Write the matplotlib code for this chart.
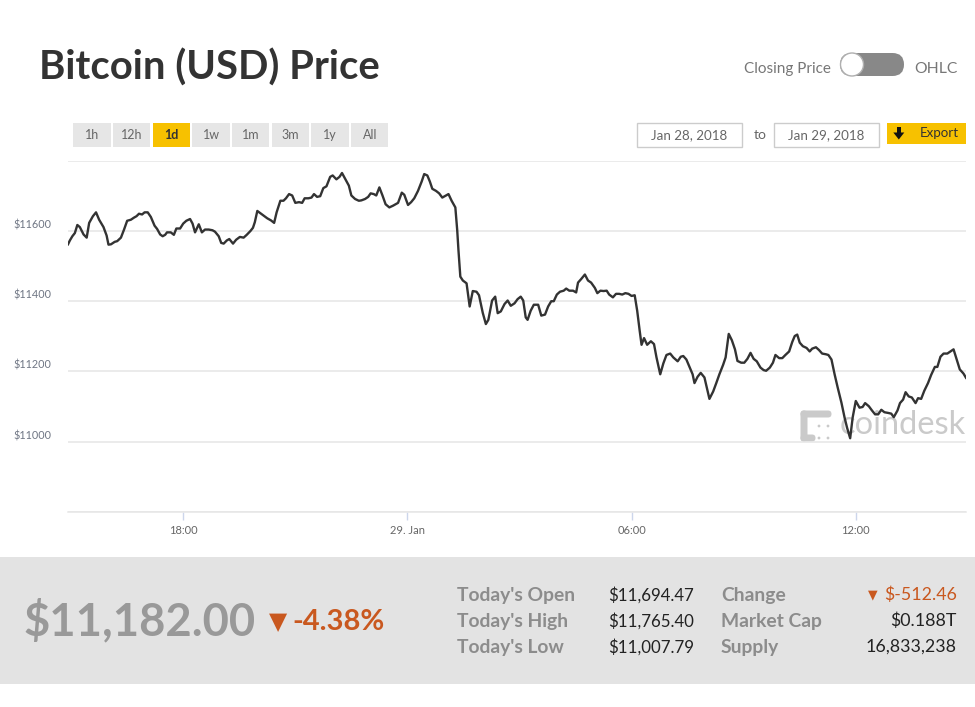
import matplotlib
matplotlib.use("Agg")
import matplotlib.pyplot as plt
from matplotlib.patches import FancyBboxPatch, Rectangle, Circle, Polygon

# ---------------- data ----------------
# minutes since 2018-01-28 00:00
minutes = [
    895, 898, 902, 906, 910, 914, 920, 925, 929, 935,
    940, 945, 952, 957, 960, 964, 970, 974, 980, 985,
    990, 996, 1001, 1005, 1009, 1014, 1018, 1023, 1028, 1034,
    1038, 1043, 1047, 1051, 1054, 1060, 1065, 1069, 1075, 1080,
    1085, 1091, 1095, 1099, 1105, 1110, 1115, 1121, 1127, 1131,
    1137, 1141, 1145, 1150, 1154, 1160, 1165, 1171, 1177, 1182,
    1188, 1192, 1195, 1199, 1205, 1210, 1215, 1221, 1226, 1230,
    1236, 1241, 1245, 1250, 1255, 1260, 1266, 1271, 1275, 1281,
    1286, 1290, 1295, 1300, 1305, 1310, 1316, 1320, 1326, 1331,
    1335, 1341, 1346, 1350, 1356, 1362, 1366, 1372, 1377, 1381,
    1386, 1390, 1395, 1400, 1405, 1411, 1417, 1425, 1431, 1435,
    1441, 1446, 1451, 1457, 1463, 1467, 1472, 1476, 1480, 1486,
    1491, 1496, 1502, 1506, 1511, 1517, 1520, 1522, 1525, 1529,
    1535, 1540, 1545, 1551, 1555, 1561, 1566, 1570, 1576, 1581,
    1585, 1590, 1596, 1601, 1606, 1612, 1617, 1622, 1626, 1630,
    1633, 1638, 1643, 1650, 1655, 1661, 1666, 1671, 1675, 1680,
    1685, 1691, 1695, 1700, 1706, 1711, 1714, 1719, 1725, 1730,
    1735, 1741, 1745, 1750, 1755, 1760, 1764, 1770, 1775, 1780,
    1785, 1790, 1795, 1800, 1805, 1809, 1813, 1816, 1820, 1825,
    1831, 1836, 1840, 1846, 1851, 1856, 1862, 1867, 1874, 1879,
    1883, 1888, 1893, 1898, 1901, 1906, 1911, 1917, 1921, 1925,
    1931, 1936, 1941, 1947, 1951, 1956, 1961, 1966, 1970, 1976,
    1981, 1986, 1991, 1996, 2001, 2007, 2012, 2016, 2022, 2027,
    2031, 2037, 2042, 2047, 2053, 2058, 2062, 2066, 2070, 2075,
    2081, 2086, 2090, 2096, 2101, 2106, 2112, 2116, 2121, 2126,
    2131, 2137, 2142, 2146, 2151, 2155, 2160, 2166, 2171, 2175,
    2181, 2186, 2191, 2196, 2201, 2206, 2212, 2217, 2221, 2227,
    2231, 2236, 2240, 2245, 2250, 2256, 2260, 2265, 2270, 2276,
    2281, 2287, 2291, 2296, 2301, 2307, 2312, 2317, 2322, 2327,
    2333, 2337,
]
prices = [
    11562, 11573, 11585, 11594, 11617, 11611, 11590, 11581, 11623, 11642,
    11653, 11632, 11611, 11587, 11561, 11562, 11569, 11571, 11581, 11604,
    11629, 11632, 11638, 11642, 11649, 11647, 11653, 11653, 11640, 11615,
    11606, 11590, 11585, 11589, 11596, 11596, 11589, 11607, 11607, 11621,
    11629, 11634, 11621, 11596, 11619, 11596, 11604, 11604, 11602, 11598,
    11585, 11566, 11564, 11573, 11577, 11564, 11575, 11583, 11581, 11589,
    11600, 11609, 11625, 11657, 11649, 11642, 11636, 11630, 11623, 11653,
    11686, 11686, 11693, 11705, 11701, 11680, 11682, 11680, 11693, 11693,
    11695, 11705, 11697, 11699, 11722, 11727, 11754, 11758, 11747, 11754,
    11765, 11745, 11729, 11701, 11691, 11686, 11687, 11691, 11697, 11707,
    11705, 11701, 11724, 11701, 11676, 11667, 11672, 11680, 11709, 11703,
    11674, 11682, 11693, 11714, 11741, 11762, 11758, 11741, 11720, 11714,
    11707, 11695, 11701, 11705, 11686, 11667, 11602, 11545, 11470, 11459,
    11451, 11385, 11429, 11427, 11417, 11367, 11335, 11347, 11402, 11413,
    11366, 11371, 11392, 11402, 11387, 11394, 11406, 11413, 11402, 11354,
    11347, 11373, 11390, 11390, 11359, 11362, 11385, 11400, 11400, 11419,
    11427, 11430, 11436, 11430, 11430, 11425, 11453, 11463, 11476, 11459,
    11453, 11438, 11423, 11430, 11429, 11430, 11419, 11411, 11421, 11421,
    11419, 11423, 11421, 11415, 11417, 11373, 11316, 11276, 11295, 11276,
    11286, 11278, 11240, 11192, 11223, 11247, 11251, 11240, 11229, 11242,
    11244, 11234, 11213, 11192, 11167, 11185, 11196, 11183, 11152, 11122,
    11143, 11167, 11192, 11219, 11240, 11307, 11289, 11263, 11230, 11225,
    11225, 11236, 11253, 11236, 11229, 11211, 11204, 11202, 11211, 11225,
    11247, 11238, 11238, 11247, 11257, 11284, 11301, 11305, 11282, 11272,
    11267, 11257, 11265, 11269, 11261, 11251, 11249, 11247, 11234, 11192,
    11154, 11111, 11069, 11040, 11010, 11069, 11116, 11097, 11099, 11110,
    11101, 11089, 11078, 11078, 11091, 11084, 11082, 11080, 11070, 11089,
    11110, 11120, 11141, 11129, 11126, 11110, 11124, 11122, 11145, 11167,
    11190, 11213, 11213, 11242, 11251, 11251, 11257, 11263, 11234, 11206,
    11194, 11182,
]

grid_values = [10800, 11000, 11200, 11400, 11600, 11800]
y_label_values = [11000, 11200, 11400, 11600]
y_labels = ["$11000", "$11200", "$11400", "$11600"]
x_ticks = [1080, 1440, 1800, 2160]
x_labels = ["18:00", "29. Jan", "06:00", "12:00"]
range_buttons = ["1h", "12h", "1d", "1w", "1m", "3m", "1y", "All"]
selected_range = "1d"
date_from = "Jan 28, 2018"
date_to = "Jan 29, 2018"
title = "Bitcoin (USD) Price"
last_price = "$11,182.00"
pct_change = "-4.38%"
stat_labels_left = ["Today's Open", "Today's High", "Today's Low"]
stat_values_left = ["$11,694.47", "$11,765.40", "$11,007.79"]
stat_labels_right = ["Change", "Market Cap", "Supply"]
stat_values_right = ["$-512.46", "$0.188T", "16,833,238"]

# ---------------- styling ----------------
plt.rcParams["font.family"] = ["Lato", "DejaVu Sans"]
YELLOW = "#f7c100"
ORANGE = "#c9581f"

fig = plt.figure(figsize=(9.75, 7.07), dpi=100)
fig.patch.set_facecolor("white")

# page overlay in pixel coordinates
bg = fig.add_axes([0, 0, 1, 1])
bg.set_xlim(0, 975)
bg.set_ylim(707, 0)
bg.axis("off")
bg.set_zorder(0)

# main chart axes
L, R, T, B = 68, 966, 160.7, 512
ax = fig.add_axes([L / 975, 1 - B / 707, (R - L) / 975, (B - T) / 707])
ax.set_zorder(1)
ax.patch.set_alpha(0)

ax.plot(minutes, prices, color="#333333", lw=1.7, solid_joinstyle="round", zorder=3)
ax.set_xlim(minutes[0], minutes[-1])
ax.set_ylim(grid_values[0], grid_values[-1])

ax.set_yticks(grid_values, labels=[""] * len(grid_values))
ax.yaxis.grid(True, color="#e6e6e6", lw=1.1)
ax.tick_params(axis="y", length=0)
for v, lab in zip(y_label_values, y_labels):
    ax.annotate(lab, xy=(0, v), xycoords=("axes fraction", "data"),
                xytext=(-17, 6), textcoords="offset pixels",
                ha="right", va="center", fontsize=7.8, color="#6f7684")

ax.set_xticks(x_ticks, labels=x_labels)
ax.tick_params(axis="x", length=6, width=1, color="#ccd6eb",
               labelcolor="#666666", labelsize=8, pad=3)
for s in ["left", "right", "top"]:
    ax.spines[s].set_visible(False)
ax.spines["bottom"].set_color("#e6e6e6")
ax.spines["bottom"].set_linewidth(1.1)

# ---------------- header ----------------
bg.text(39, 68, title, fontsize=28.8, fontweight="bold", color="#333333", va="center")
bg.text(831, 69, "Closing Price", fontsize=11, color="#777777", ha="right", va="center")
bg.add_patch(FancyBboxPatch((840, 53), 64, 23, boxstyle="round,pad=0,rounding_size=11.5",
                            fc="#888888", ec="none"))
bg.add_patch(Circle((852, 64.5), 11.5, fc="white", ec="#b0b0b0", lw=1))
bg.text(914, 69, "OHLC", fontsize=11.3, color="#777777", ha="left", va="center")

# range buttons
for i, lab in enumerate(range_buttons):
    x0 = 73.3 + i * 39.67
    sel = lab == selected_range
    bg.add_patch(Rectangle((x0, 122.7), 37.5, 24.6, fc=YELLOW if sel else "#e6e6e6", ec="none"))
    bg.text(x0 + 18.75, 135, lab, fontsize=9, ha="center", va="center",
            color="#333333" if sel else "#666666", fontweight="bold" if sel else "normal")

# date range boxes
bg.add_patch(Rectangle((637, 122.7), 104.7, 24, fc="white", ec="#cccccc", lw=1))
bg.text(689.3, 134.7, date_from, fontsize=9.6, ha="center", va="center", color="#666666")
bg.text(760, 134.7, "to", fontsize=10, ha="center", va="center", color="#666666")
bg.add_patch(Rectangle((774.3, 122.7), 104.7, 24, fc="white", ec="#cccccc", lw=1))
bg.text(826.6, 134.7, date_to, fontsize=9.6, ha="center", va="center", color="#666666")

# export button
bg.add_patch(Rectangle((886.7, 122.7), 79.3, 21.3, fc=YELLOW, ec="none"))
bg.add_patch(Rectangle((897, 126.5), 3.6, 6.5, fc="#111111", ec="none"))
bg.add_patch(Polygon([[893.3, 132.5], [904.3, 132.5], [898.8, 139.5]], closed=True,
                     fc="#111111", ec="none"))
bg.text(920, 133.3, "Export", fontsize=9.6, ha="left", va="center", color="#333333")

# watermark
WM = "#cacaca"
bg.add_patch(FancyBboxPatch((800.5, 410.5), 31, 7, boxstyle="round,pad=0,rounding_size=3.5",
                            fc=WM, ec="none"))
bg.add_patch(FancyBboxPatch((800.5, 410.5), 7, 31, boxstyle="round,pad=0,rounding_size=3.5",
                            fc=WM, ec="none"))
bg.add_patch(FancyBboxPatch((800.5, 434.5), 15, 7, boxstyle="round,pad=0,rounding_size=3.5",
                            fc=WM, ec="none"))
for cx, cy in [(819, 426), (828, 426), (819, 438), (828, 438)]:
    bg.add_patch(Circle((cx, cy), 1.4, fc=WM, ec="none"))
bg.text(840, 425, "coindesk", fontsize=23.5, color=WM, ha="left", va="center")

# ---------------- bottom panel ----------------
bg.add_patch(Rectangle((0, 557), 975, 127, fc="#e3e3e3", ec="none"))
bg.text(23, 621, last_price, fontsize=32.6, fontweight="bold", color="#999999", va="center")
bg.text(269, 622, "\u25bc", fontsize=17, color=ORANGE, va="center", family=["DejaVu Sans"])
bg.text(292, 622, pct_change, fontsize=21, fontweight="bold", color=ORANGE, va="center")

rows_y = [595, 621, 647]
for y, lab, val in zip(rows_y, stat_labels_left, stat_values_left):
    bg.text(457, y, lab, fontsize=13.9, fontweight="bold", color="#8c8c8c", va="center")
    bg.text(608, y, val, fontsize=12.2, color="#222222", va="center")
for i, (y, lab, val) in enumerate(zip(rows_y, stat_labels_right, stat_values_right)):
    bg.text(721, y, lab, fontsize=13.9, fontweight="bold", color="#8c8c8c", va="center")
    bg.text(957, y, val, fontsize=12.8, color=ORANGE if i == 0 else "#222222",
            ha="right", va="center")
bg.text(868, 595, "\u25bc", fontsize=9, color=ORANGE, va="center", family=["DejaVu Sans"])

fig.savefig("out.png", dpi=100)
